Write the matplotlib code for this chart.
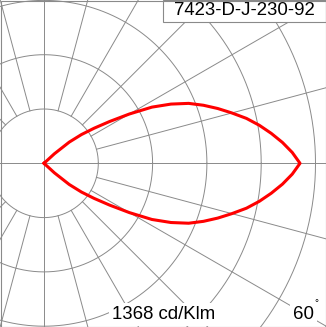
import numpy as np
import matplotlib.pyplot as plt
from matplotlib.patches import Rectangle

# intensity (cd/klm) vs angle from the beam axis, same on both sides
angles = [0, 2.5, 5, 7.5, 10, 12.5, 15, 17.5, 20, 22.5, 25, 27.5, 30,
          32.5, 35, 37.5, 40, 42.5, 45]
intensity = [1290, 1252, 1206, 1155, 1102, 1045, 980, 918, 855, 789, 706,
             613, 497, 392, 308, 238, 166, 71, 0]

max_value = 1368
unit_label = f"{max_value} cd/Klm"
code_label = "7423-D-J-230-92"
angle_label = "60"
ring_step = max_value / 5
ring_count = 6
spoke_step = 15

W, H = 326, 327
CX, CY = 44, 163.3           # centre of the diagram in pixels (from top-left)
ring_px = 54.3               # pixels per ring
k = ring_step / ring_px      # cd/klm per pixel

grey = "#8a8a8a"
font = "Liberation Sans"

fig = plt.figure(figsize=(W / 100, H / 100), dpi=100)
ax = fig.add_axes([0, 0, 1, 1])
ax.set_xlim(-CX * k, (W - CX) * k)
ax.set_ylim(-(H - CY) * k, CY * k)
ax.axis("off")

# rings
t = np.linspace(0, 2 * np.pi, 400)
for i in range(1, ring_count + 1):
    r = i * ring_step
    ax.plot(r * np.cos(t), r * np.sin(t), color=grey, lw=0.7)

# spokes: axes through centre, the others start at first ring
far = 3000
for a in range(0, 360, spoke_step):
    rad = np.radians(a)
    r0 = 0 if a % 90 == 0 else ring_step
    ax.plot([r0 * np.cos(rad), far * np.cos(rad)],
            [r0 * np.sin(rad), far * np.sin(rad)], color=grey, lw=0.7)

# light distribution curve
th = np.radians(np.array(angles))
I = np.array(intensity)
th_all = np.concatenate([-th[::-1], th[1:]])
I_all = np.concatenate([I[::-1], I[1:]])
ax.plot(I_all * np.cos(th_all), I_all * np.sin(th_all), color="red", lw=2.2,
        solid_joinstyle="round", zorder=5)

# title box
fig.patches.append(Rectangle((163 / W, 1 - 21.7 / H), (W - 163 - 0.5) / W, (21.7 - 0.5) / H,
                             transform=fig.transFigure, facecolor="white",
                             edgecolor=grey, lw=0.8, zorder=10))
fig.text(244.5 / W, 1 - 10.8 / H, code_label, ha="center", va="center",
         fontsize=13.4, family=font, zorder=11)

# bottom labels
fig.text(112 / W, 1 - 319 / H, unit_label, ha="left", va="baseline",
         fontsize=13.4, family=font, zorder=11,
         bbox=dict(facecolor="white", edgecolor="none", pad=2))
fig.text(293 / W, 1 - 319 / H, angle_label, ha="left", va="baseline",
         fontsize=13.4, family=font, zorder=11,
         bbox=dict(facecolor="white", edgecolor="none", pad=2))
fig.text(314 / W, 1 - 306 / H, "°", ha="left", va="baseline",
         fontsize=7, family=font, zorder=12)

# outer frame
fig.patches.append(Rectangle((0.5 / W, 0.5 / H), 1 - 1 / W, 1 - 1 / H,
                             transform=fig.transFigure, fill=False,
                             edgecolor=grey, lw=0.8, zorder=12))

fig.savefig("out.png", dpi=100)
